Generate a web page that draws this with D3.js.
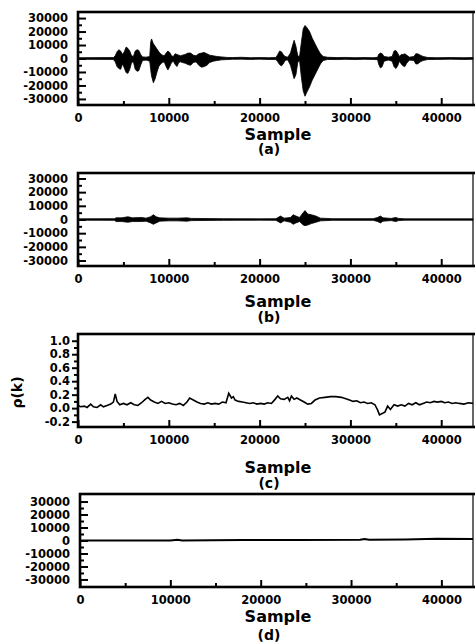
<!DOCTYPE html>
<html>
<head>
<meta charset="utf-8">
<script src="https://cdn.jsdelivr.net/npm/d3@7"></script>
<style>
  body { margin: 0; background: #fff; }
  svg text { font-family: "DejaVu Sans", sans-serif; font-weight: bold; fill: #000; }
</style>
</head>
<body>
<div id="svg_container"></div>
<script>
// sample axis (shared by all four panels)
const sampleTicks = [0, 10000, 20000, 30000, 40000];
const sampleMinor = [5000, 15000, 25000, 35000];
const ampTicks = [30000, 20000, 10000, 0, -10000, -20000, -30000];
const ampMinor = [25000, 15000, 5000, -5000, -15000, -25000];
const rhoTicks = [1.0, 0.8, 0.6, 0.4, 0.2, 0.0, -0.2];
const rhoMinor = [0.9, 0.7, 0.5, 0.3, 0.1, -0.1];
const panelNames = ["(a)", "(b)", "(c)", "(d)"];

// (a) speech signal, envelope
const waveASample = [0, 3900, 4100, 4300, 4500, 4700, 4900, 5100, 5300, 5500, 5700, 5900, 6100, 6300, 6500, 6700, 6900, 7100, 7500, 7900,
    8000, 8100, 8300, 8500, 8700, 8900, 9100, 9300, 9500, 9700, 9900, 10100, 10300, 10500, 10700, 10900, 11100, 11300, 11500, 11800,
    12100, 12400, 12700, 13000, 13300, 13600, 13900, 14200, 14500, 14900, 15300, 15800, 16400, 17000, 18000, 19000, 20000, 21000, 21800, 22000,
    22200, 22400, 22600, 22800, 23100, 23400, 23600, 23800, 24000, 24200, 24400, 24600, 24800, 25000, 25200, 25500, 25800, 26100, 26400, 26700,
    27000, 27500, 28500, 29500, 30500, 31500, 32500, 33000, 33100, 33300, 33500, 33700, 34200, 34600, 34800, 35000, 35200, 35400, 35600, 35800,
    36000, 36200, 36500, 37000, 37200, 37400, 37700, 38000, 38500, 39500, 41000, 42500, 43500];
const waveATop = [600, 700, 2000, 5000, 6500, 5500, 3000, 5000, 8500, 7500, 5500, 2000, 1500, 5500, 6500, 6000, 3000, 1200, 1000, 1500,
    12000, 14500, 11000, 9000, 7000, 5000, 3500, 2500, 2000, 4000, 5500, 4500, 2000, 1500, 3500, 3000, 2500, 2000, 2500, 3000,
    4000, 4000, 2500, 2000, 3500, 4000, 4500, 3500, 2500, 2000, 1500, 1200, 800, 700, 900, 600, 700, 600, 800, 3000,
    5500, 5000, 3000, 1500, 1000, 4000, 9000, 13500, 9000, 2000, 1500, 12000, 22000, 24500, 23000, 20000, 15000, 11000, 7000, 3500,
    1500, 900, 700, 800, 600, 700, 600, 900, 3000, 4000, 3500, 1500, 1000, 1500, 5500, 6000, 4000, 1500, 3000, 3000,
    3500, 2500, 1000, 1500, 3500, 3500, 2500, 1500, 800, 600, 700, 600, 700];
const waveABottom = [-600, -700, -2500, -6000, -7500, -8000, -4000, -7000, -10500, -11000, -8000, -3000, -2500, -8000, -9500, -9000, -5000, -1500, -1200, -2000,
    -8000, -13000, -18000, -15000, -10000, -6000, -4000, -3000, -2500, -6000, -8500, -6000, -3000, -2000, -4500, -6000, -3000, -2500, -3000, -3500,
    -4500, -5000, -3000, -2500, -5000, -6500, -6000, -5000, -3000, -2000, -1500, -1000, -800, -600, -500, -700, -500, -700, -800, -2500,
    -4500, -5500, -4000, -1500, -1000, -5000, -10000, -15000, -12000, -3000, -1500, -14000, -24000, -28000, -25000, -21000, -16000, -12000, -8000, -4000,
    -1500, -700, -800, -600, -800, -600, -700, -900, -4000, -7000, -6000, -2000, -1200, -2000, -6000, -7500, -5500, -2000, -4000, -5500,
    -6000, -3500, -1200, -1500, -4000, -4000, -2500, -1500, -800, -700, -500, -700, -600];

// (b) residual signal
const waveBSample = [0, 4000, 4200, 4800, 5500, 6000, 7000, 7500, 8000, 8300, 8600, 9000, 10000, 11000, 12000, 12500, 14000, 16000, 20000, 21800,
    22300, 22700, 23400, 23700, 24000, 24400, 24800, 25000, 25300, 25700, 26200, 26700, 28000, 32500, 33000, 33300, 33600, 34500, 35000, 35300,
    36000, 43500];
const waveBTop = [500, 600, 1200, 1200, 2000, 1200, 1500, 1000, 2000, 3500, 2000, 1200, 1000, 1000, 1200, 800, 700, 600, 500, 600,
    2500, 1000, 1500, 3500, 2500, 1500, 5000, 6500, 4000, 3500, 2500, 1000, 600, 600, 1500, 2500, 1200, 800, 1500, 800,
    500, 500];
const waveBBottom = [-500, -600, -1500, -1500, -2000, -1500, -1500, -1200, -2500, -3500, -2500, -1200, -1000, -1000, -1200, -800, -700, -600, -500, -600,
    -2500, -1000, -2000, -3500, -2500, -1500, -4000, -4500, -4000, -3000, -2000, -1000, -600, -600, -1500, -2500, -1200, -800, -1500, -800,
    -500, -500];

// (c) correlation coefficient rho(k)
const rhoSample = [0, 300, 700, 1000, 1400, 1700, 2100, 2500, 2800, 3200, 3600, 3900, 4100, 4300, 4600, 5000, 5400, 5800, 6200, 6600,
    7000, 7400, 7700, 8000, 8400, 8800, 9200, 9600, 10000, 10400, 10800, 11200, 11600, 12000, 12300, 12700, 13100, 13500, 13900, 14300,
    14700, 15100, 15500, 15900, 16300, 16600, 16900, 17100, 17300, 17700, 18100, 18500, 18900, 19300, 19700, 20100, 20500, 20900, 21300, 21700,
    22000, 22300, 22700, 23100, 23300, 23500, 23800, 24100, 24500, 24900, 25300, 25700, 26100, 26600, 27200, 27800, 28400, 29000, 29500, 29900,
    30300, 30700, 31100, 31500, 31900, 32300, 32700, 33000, 33200, 33500, 33800, 34100, 34400, 34800, 35200, 35600, 36000, 36400, 36800, 37200,
    37600, 38000, 38400, 38800, 39200, 39600, 40000, 40400, 40800, 41200, 41600, 42000, 42500, 43000, 43500];
const rhoValue = [0.04, 0.02, 0.03, 0.01, 0.06, 0.02, 0.01, 0.05, 0.02, 0.04, 0.06, 0.09, 0.21, 0.10, 0.05, 0.07, 0.05, 0.08, 0.05, 0.04,
    0.08, 0.13, 0.16, 0.12, 0.09, 0.07, 0.10, 0.07, 0.08, 0.06, 0.05, 0.07, 0.04, 0.09, 0.15, 0.12, 0.09, 0.07, 0.06, 0.08,
    0.06, 0.07, 0.06, 0.09, 0.08, 0.22, 0.15, 0.17, 0.12, 0.10, 0.09, 0.08, 0.07, 0.08, 0.06, 0.07, 0.06, 0.08, 0.07, 0.13,
    0.18, 0.14, 0.13, 0.16, 0.11, 0.18, 0.13, 0.15, 0.12, 0.09, 0.06, 0.07, 0.12, 0.15, 0.16, 0.17, 0.17, 0.16, 0.14, 0.12,
    0.10, 0.11, 0.08, 0.09, 0.07, 0.08, 0.05, -0.03, -0.10, -0.08, -0.06, 0.03, -0.02, 0.05, 0.03, 0.05, 0.03, 0.07, 0.05, 0.08,
    0.05, 0.07, 0.09, 0.08, 0.10, 0.09, 0.10, 0.08, 0.09, 0.07, 0.08, 0.07, 0.06, 0.08, 0.07];

// (d) reconstruction error, nearly flat
const errSample = [0, 10000, 10800, 11300, 18000, 24000, 31000, 31500, 32000, 36000, 39500, 43500];
const errValue = [0, 0, 600, 0, 400, 300, 500, 1200, 500, 700, 1300, 1100];

function createChart() {
    let width = 475;
    let height = 642;
    const svg = d3.select('#svg_container').append("svg")
        .attr("width", width)
        .attr("height", height);

    const x = d3.scaleLinear().domain([0, 43500]);
    // plain hyphen for negatives, as in the scan
    const intFmt = d => String(d);
    const rhoFmt = d => d.toFixed(1);

    // layout of each panel
    const panels = [
        { left: 78, top: 12, bottom: 105, yDomain: [-34500, 34500], ticks: ampTicks, minor: ampMinor, fmt: intFmt, out: false, sampleY: 140, nameY: 154 },
        { left: 78, top: 173, bottom: 266, yDomain: [-34000, 34000], ticks: ampTicks, minor: ampMinor, fmt: intFmt, out: false, sampleY: 307, nameY: 322 },
        { left: 78, top: 334, bottom: 427, yDomain: [-0.28, 1.1], ticks: rhoTicks, minor: rhoMinor, fmt: rhoFmt, out: true, sampleY: 473, nameY: 488 },
        { left: 80, top: 494, bottom: 587, yDomain: [-35800, 35800], ticks: ampTicks, minor: ampMinor, fmt: intFmt, out: false, sampleY: 622, nameY: 640 }
    ];

    panels.forEach((p, i) => {
        const px = x.copy().range([p.left, 473]);
        const py = d3.scaleLinear().domain(p.yDomain).range([p.bottom, p.top]);
        const g = svg.append("g");

        // data
        if (i === 0 || i === 1) {
            const xs = i === 0 ? waveASample : waveBSample;
            const tops = i === 0 ? waveATop : waveBTop;
            const bots = i === 0 ? waveABottom : waveBBottom;
            const area = d3.area()
                .x(d => px(xs[d]))
                .y0(d => py(bots[d]))
                .y1(d => py(tops[d]));
            g.append("path")
                .datum(d3.range(xs.length))
                .attr("d", area)
                .attr("fill", "#000")
                .attr("stroke", "#000")
                .attr("stroke-width", 0.8);
        } else {
            const xs = i === 2 ? rhoSample : errSample;
            const ys = i === 2 ? rhoValue : errValue;
            const line = d3.line()
                .x(d => px(xs[d]))
                .y(d => py(ys[d]));
            g.append("path")
                .datum(d3.range(xs.length))
                .attr("d", line)
                .attr("fill", "none")
                .attr("stroke", "#000")
                .attr("stroke-width", i === 2 ? 1.6 : 2);
        }

        // y axis, major and minor
        g.append("g")
            .attr("transform", `translate(${p.left},0)`)
            .call(d3.axisLeft(py).tickValues(p.ticks).tickFormat(p.fmt)
                .tickSize(p.out ? 6 : -8).tickPadding(p.out ? 2 : 10));
        g.append("g")
            .attr("transform", `translate(${p.left},0)`)
            .call(d3.axisLeft(py).tickValues(p.minor).tickFormat("")
                .tickSize(p.out ? 4 : -4));

        // x axis, ticks pointing up into the plot
        g.append("g")
            .attr("transform", `translate(0,${p.bottom})`)
            .call(d3.axisBottom(px).tickValues(sampleTicks).tickFormat(intFmt)
                .tickSize(-7).tickPadding(9));
        g.append("g")
            .attr("transform", `translate(0,${p.bottom})`)
            .call(d3.axisBottom(px).tickValues(sampleMinor).tickFormat("")
                .tickSize(-4));

        g.selectAll(".domain").remove();
        g.selectAll(".tick line").attr("stroke", "#000").attr("stroke-width", 2);
        g.selectAll(".tick text")
            .attr("font-family", "DejaVu Sans, sans-serif")
            .attr("font-weight", "bold")
            .attr("font-size", 11.5)
            .attr("fill", "#000");

        // frame
        g.append("rect")
            .attr("x", p.left)
            .attr("y", p.top)
            .attr("width", 474 - p.left + 6)
            .attr("height", p.bottom - p.top)
            .attr("fill", "none")
            .attr("stroke", "#000")
            .attr("stroke-width", 2.6);
        g.append("line")
            .attr("x1", 473).attr("x2", 473)
            .attr("y1", p.top).attr("y2", p.bottom)
            .attr("stroke", "#000")
            .attr("stroke-width", 1.2);

        // titles
        g.append("text")
            .attr("x", 278)
            .attr("y", p.sampleY)
            .attr("text-anchor", "middle")
            .attr("font-size", 16)
            .text("Sample");
        g.append("text")
            .attr("x", 269)
            .attr("y", p.nameY)
            .attr("text-anchor", "middle")
            .attr("font-size", 14)
            .text(panelNames[i]);

        if (i === 2) {
            g.append("text")
                .attr("transform", `translate(22,${(p.top + p.bottom) / 2 + 12}) rotate(-90)`)
                .attr("text-anchor", "middle")
                .attr("font-size", 14)
                .text("ρ(k)");
        }
    });
}

document.addEventListener('DOMContentLoaded', function (e) {
    createChart();
});
</script>
</body>
</html>
